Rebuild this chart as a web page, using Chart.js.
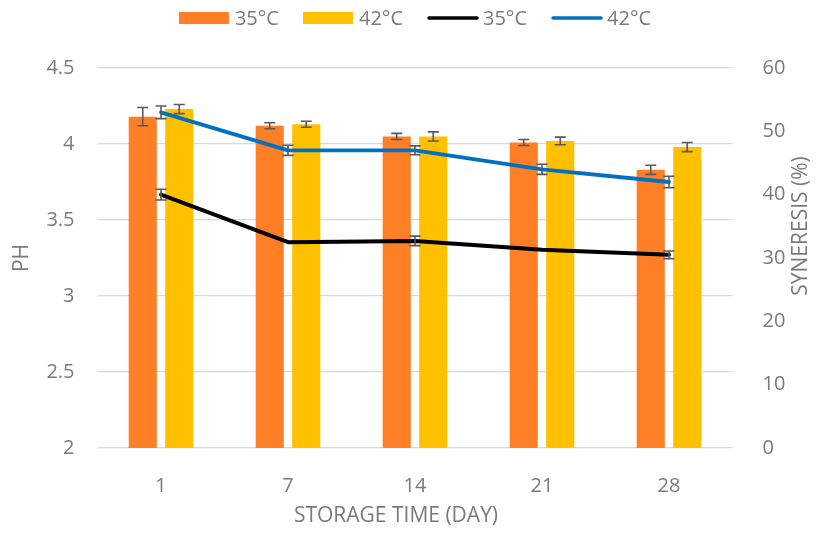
<!DOCTYPE html>
<html><head><meta charset="utf-8">
<script src="https://cdn.jsdelivr.net/npm/chart.js@4/dist/chart.umd.min.js"></script>
<style>html,body{margin:0;padding:0;background:#fff}</style>
</head><body>
<canvas id="c" width="816" height="533"></canvas>
<script>
const days = ['1', '7', '14', '21', '28'];
const ph35 = [4.18, 4.12, 4.05, 4.01, 3.83];
const ph35Err = [0.06, 0.02, 0.02, 0.02, 0.03];
const ph42 = [4.23, 4.13, 4.05, 4.02, 3.98];
const ph42Err = [0.03, 0.02, 0.03, 0.025, 0.03];
const syn35 = [40.0, 32.5, 32.7, 31.3, 30.5];
const syn35Err = [0.85, 0, 0.75, 0, 0.6];
const syn42 = [53.0, 47.0, 47.0, 44.0, 42.0];
const syn42Err = [1.0, 0.8, 0.7, 0.8, 0.9];
const phRange = [2, 4.5];
const phStep = 0.5;
const synRange = [0, 60];
const synStep = 10;

const TXT = '#7a7a7a';
const FONT = '"Open Sans", sans-serif';

const errorBars = {
  id: 'errorBars',
  afterDatasetsDraw(chart) {
    const ctx = chart.ctx;
    chart.data.datasets.forEach((ds, di) => {
      if (!ds.errors) return;
      const meta = chart.getDatasetMeta(di);
      const scale = chart.scales[meta.yAxisID];
      ctx.save();
      ctx.strokeStyle = '#595959';
      ctx.lineWidth = 1.6;
      meta.data.forEach((el, i) => {
        const e = ds.errors[i];
        if (!e) return;
        const x = el.x;
        const y1 = scale.getPixelForValue(ds.data[i] + e);
        const y2 = scale.getPixelForValue(ds.data[i] - e);
        ctx.beginPath();
        ctx.moveTo(x, y1); ctx.lineTo(x, y2);
        ctx.moveTo(x - 5.5, y1); ctx.lineTo(x + 5.5, y1);
        ctx.moveTo(x - 5.5, y2); ctx.lineTo(x + 5.5, y2);
        ctx.stroke();
      });
      ctx.restore();
    });
  }
};

const extras = {
  id: 'extras',
  afterDraw(chart) {
    const ctx = chart.ctx;
    const area = chart.chartArea;
    ctx.save();
    // legend
    ctx.font = '20px ' + FONT;
    ctx.textBaseline = 'middle';
    const items = chart.data.datasets.map(ds => ({
      ds, w: 50 + 6 + ctx.measureText(ds.label).width
    }));
    const gap = 24;
    const total = items.reduce((s, it) => s + it.w, 0) + gap * (items.length - 1);
    let x = (area.left + area.right) / 2 - total / 2;
    const cy = 18;
    items.forEach(it => {
      const ds = it.ds;
      if ((ds.type || 'bar') === 'bar') {
        ctx.fillStyle = ds.backgroundColor;
        ctx.fillRect(x, cy - 6, 50, 12);
      } else {
        ctx.strokeStyle = ds.borderColor;
        ctx.lineWidth = 3.5;
        ctx.lineCap = 'round';
        ctx.beginPath();
        ctx.moveTo(x + 2, cy); ctx.lineTo(x + 50, cy);
        ctx.stroke();
      }
      ctx.fillStyle = TXT;
      ctx.textAlign = 'left';
      ctx.fillText(ds.label, x + 56, cy + 1);
      x += it.w + gap;
    });
    // x axis title
    ctx.font = '21px ' + FONT;
    ctx.textAlign = 'center';
    ctx.textBaseline = 'middle';
    ctx.fillStyle = TXT;
    ctx.fillText('STORAGE TIME (DAY)', 396, 516);
    // right axis title, bottom-to-top
    ctx.translate(801, 226);
    ctx.rotate(-Math.PI / 2);
    ctx.fillText('SYNERESIS (%)', 0, 0);
    ctx.restore();
  }
};

new Chart(document.getElementById('c'), {
  data: {
    labels: days,
    datasets: [
      { type: 'bar', label: '35°C', data: ph35, errors: ph35Err, backgroundColor: '#FF7F27', yAxisID: 'y', order: 2,
        categoryPercentage: 0.575, barPercentage: 0.77 },
      { type: 'bar', label: '42°C', data: ph42, errors: ph42Err, backgroundColor: '#FFC000', yAxisID: 'y', order: 2,
        categoryPercentage: 0.575, barPercentage: 0.77 },
      { type: 'line', label: '35°C', data: syn35, errors: syn35Err, borderColor: '#000000', backgroundColor: '#000000',
        borderWidth: 4, pointRadius: 0, tension: 0, yAxisID: 'y1', order: 1, borderCapStyle: 'round', borderJoinStyle: 'round' },
      { type: 'line', label: '42°C', data: syn42, errors: syn42Err, borderColor: '#0070C0', backgroundColor: '#0070C0',
        borderWidth: 3.8, pointRadius: 0, tension: 0, yAxisID: 'y1', order: 1, borderCapStyle: 'round', borderJoinStyle: 'round' }
    ]
  },
  options: {
    responsive: false,
    animation: false,
    layout: { padding: { top: 68, left: 0, right: 0, bottom: 0 } },
    plugins: { legend: { display: false }, tooltip: { enabled: false } },
    scales: {
      x: {
        grid: { display: false },
        border: { display: false },
        ticks: { color: TXT, font: { family: FONT, size: 20 }, padding: 18 },
        afterFit(s) { s.height = 85; }
      },
      y: {
        position: 'left',
        min: phRange[0], max: phRange[1],
        grid: { color: '#d9d9d9', lineWidth: 1.3, drawTicks: false },
        border: { display: false },
        ticks: { stepSize: phStep, color: TXT, font: { family: FONT, size: 20 }, padding: 23,
                 callback: v => String(v) },
        title: { display: true, text: 'PH', color: TXT, font: { family: FONT, size: 21 }, padding: { top: 9, bottom: 0 } },
        afterFit(s) { s.width = 97.5; }
      },
      y1: {
        position: 'right',
        min: synRange[0], max: synRange[1],
        grid: { display: false },
        border: { display: false },
        ticks: { stepSize: synStep, color: TXT, font: { family: FONT, size: 20 }, padding: 22 },
        afterFit(s) { s.width = 83.5; }
      }
    }
  },
  plugins: [errorBars, extras]
});
</script>
</body></html>
